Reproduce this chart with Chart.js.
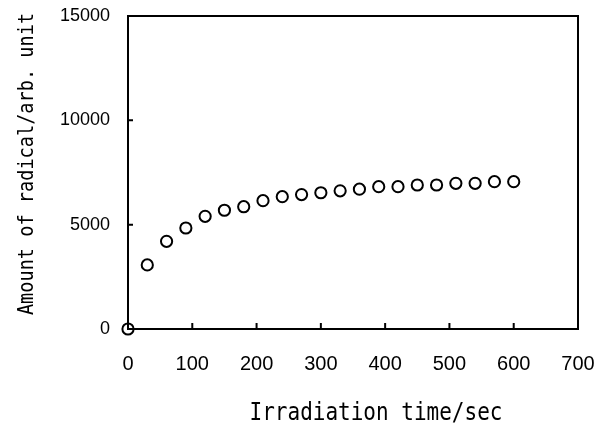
<!DOCTYPE html>
<html>
<head>
<meta charset="utf-8">
<script src="https://cdn.jsdelivr.net/npm/chart.js@4/dist/chart.umd.min.js"></script>
<style>
  body { margin: 0; background: #fff; }
  #wrap { width: 609px; height: 425px; }
</style>
</head>
<body>
<div id="wrap"><canvas id="radChart"></canvas></div>
<script>
// irradiation time (sec) and radical amount (arb. unit)
const times = [0, 30, 60, 90, 120, 150, 180, 210, 240, 270, 300, 330, 360, 390, 420, 450, 480, 510, 540, 570, 600];
const radical = [0, 3070, 4200, 4840, 5400, 5690, 5860, 6150, 6340, 6440, 6530, 6620, 6700, 6820, 6820, 6900, 6900, 6980, 6980, 7060, 7060];

const xTickValues = [0, 100, 200, 300, 400, 500, 600, 700];
const yTickValues = [0, 5000, 10000, 15000];

const xTitle = 'Irradiation time/sec';
const yTitle = 'Amount of radical/arb. unit';

// box, inward ticks and the two axis titles
const frame = {
    id: 'frame',
    beforeDatasetsDraw(chart) {
        const { ctx, chartArea: a, scales: { x, y } } = chart;
        ctx.save();
        ctx.strokeStyle = '#000';
        ctx.lineWidth = 2;
        ctx.strokeRect(a.left, a.top, a.right - a.left, a.bottom - a.top);
        ctx.beginPath();
        x.ticks.forEach(t => {
            const px = x.getPixelForValue(t.value);
            ctx.moveTo(px, a.bottom);
            ctx.lineTo(px, a.bottom - 6);
        });
        y.ticks.forEach(t => {
            const py = y.getPixelForValue(t.value);
            ctx.moveTo(a.left, py);
            ctx.lineTo(a.left + 5, py);
        });
        ctx.stroke();
        ctx.restore();
    },
    afterDraw(chart) {
        const { ctx, chartArea: a } = chart;
        ctx.save();
        ctx.fillStyle = '#000';
        ctx.textAlign = 'center';
        ctx.textBaseline = 'alphabetic';

        // x title
        ctx.save();
        ctx.translate(a.left + 248, a.bottom + 91);
        ctx.scale(1, 1.18);
        ctx.font = '21px "DejaVu Sans Mono"';
        ctx.fillText(xTitle, 0, 0);
        ctx.restore();

        // y title
        ctx.save();
        ctx.translate(33, a.top + 148);
        ctx.rotate(-Math.PI / 2);
        ctx.scale(1, 1.1);
        ctx.font = '18.6px "DejaVu Sans Mono"';
        ctx.fillText(yTitle, 0, 0);
        ctx.restore();

        ctx.restore();
    }
};

const ctx = document.getElementById('radChart').getContext('2d');
new Chart(ctx, {
    type: 'scatter',
    data: {
        datasets: [{
            label: 'radical',
            data: times.map((t, i) => ({ x: t, y: radical[i] })),
            showLine: false,
            pointStyle: 'circle',
            pointRadius: 5.6,
            pointBorderWidth: 2,
            pointBorderColor: '#000',
            pointBackgroundColor: 'rgba(255,255,255,0)',
            clip: false
        }]
    },
    plugins: [frame],
    options: {
        responsive: true,
        maintainAspectRatio: false,
        animation: false,
        layout: { padding: { top: 16, right: 31, left: 0, bottom: 0 } },
        plugins: {
            legend: { display: false },
            tooltip: { enabled: false }
        },
        scales: {
            x: {
                type: 'linear',
                min: 0,
                max: 700,
                afterBuildTicks: s => { s.ticks = xTickValues.map(v => ({ value: v })); },
                afterFit: s => {
                    s.height = 96;
                    s.paddingLeft = 0;
                    s.paddingRight = 0;
                },
                grid: { display: false },
                border: { display: false },
                ticks: {
                    color: '#000',
                    font: { family: '"Liberation Sans", Arial', size: 20 },
                    padding: 15,
                    callback: v => String(v)
                }
            },
            y: {
                type: 'linear',
                min: 0,
                max: 15000,
                afterBuildTicks: s => { s.ticks = yTickValues.map(v => ({ value: v })); },
                afterFit: s => {
                    s.width = 128;
                    s.paddingTop = 0;
                    s.paddingBottom = 0;
                },
                grid: { display: false },
                border: { display: false },
                ticks: {
                    color: '#000',
                    font: { family: '"Liberation Sans", Arial', size: 18 },
                    padding: 10,
                    callback: v => String(v)
                }
            }
        }
    }
});
</script>
</body>
</html>
